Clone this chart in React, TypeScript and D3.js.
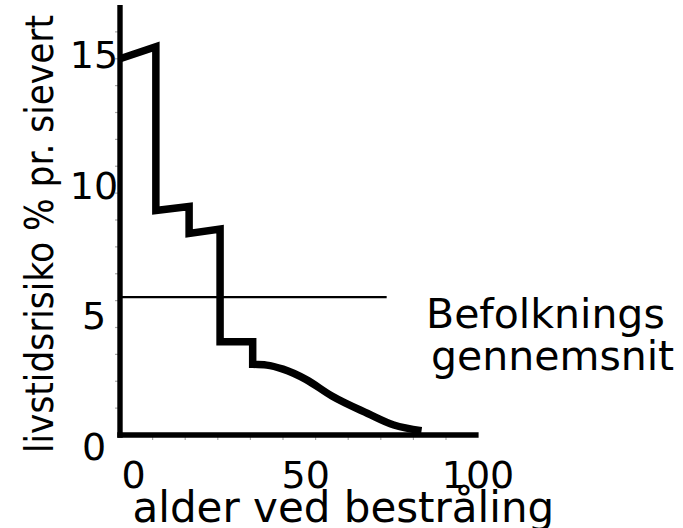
import React from 'react';
import * as d3 from 'd3';

// risk (% per sievert) vs age at exposure — stepped part
const stepAges = [0, 11, 11, 21.2, 21.2, 30.7, 30.7, 40.7, 40.7];
const stepRisk = [14.0, 14.45, 8.35, 8.5, 7.5, 7.66, 3.47, 3.47, 2.63];
// smooth tail
const tailAges = [40.7, 45, 50, 57, 65, 76, 84, 92.5];
const tailRisk = [2.63, 2.6, 2.45, 2.07, 1.45, 0.8, 0.37, 0.16];

const averageRisk = 5.13;
const averageEndAge = 81.8;

const xTickValues = [10, 20, 30, 40, 50, 60, 70, 80, 90, 100];
const yTickValues = [1, 2, 3, 4, 5, 6, 7, 8, 9, 10, 11, 12, 13, 14, 15];
const xLabels = [0, 50, 100];
const yLabels = [0, 5, 10, 15];

const yTitle = 'livstidsrisiko % pr. sievert';
const xTitle = 'alder ved bestråling';
const avgLabel = ['Befolknings', 'gennemsnit'];

const FONT = '"DejaVu Sans", Verdana, sans-serif';

export default function App() {
  const W = 683, H = 528;
  const x = d3.scaleLinear().domain([0, 110]).range([120, 478.6]);
  const y = d3.scaleLinear().domain([0, 16]).range([435, 5]);
  const xLab = d3.scaleLinear().domain([0, 100]).range([133.5, 478]);
  const yLab = d3.scaleLinear().domain([0, 15]).range([460, 68]);

  const stepLine = d3.line<[number, number]>().x(d => x(d[0])).y(d => y(d[1]));
  const tailLine = d3
    .line<[number, number]>()
    .x(d => x(d[0]))
    .y(d => y(d[1]))
    .curve(d3.curveMonotoneX);
  const stepD = stepLine(stepAges.map((a, i) => [a, stepRisk[i]] as [number, number])) || '';
  const tailD = tailLine(tailAges.map((a, i) => [a, tailRisk[i]] as [number, number])) || '';
  const pathD = stepD + tailD.replace(/^M/, 'L');

  return (
    <svg
      width={W}
      height={H}
      style={{ position: 'absolute', left: 0, top: 0, background: '#fff' }}
      fontFamily={FONT}
    >
      {/* ticks */}
      {yTickValues.map(v => (
        <line key={'yt' + v} x1={115} x2={118} y1={y(v)} y2={y(v)} stroke="#aaa" strokeWidth={1.2} />
      ))}
      {xTickValues.map(v => (
        <line key={'xt' + v} x1={x(v)} x2={x(v)} y1={437} y2={440} stroke="#aaa" strokeWidth={1.2} />
      ))}
      {/* axes */}
      <line x1={x(0)} x2={x(0)} y1={y(16)} y2={y(0) + 2.7} stroke="#000" strokeWidth={5.4} />
      <line x1={x(0) - 2.7} x2={x(110)} y1={y(0)} y2={y(0)} stroke="#000" strokeWidth={5.4} />

      {/* population average */}
      <line x1={x(0)} x2={x(averageEndAge)} y1={y(averageRisk)} y2={y(averageRisk)} stroke="#000" strokeWidth={2.4} />

      {/* risk curve */}
      <path d={pathD} fill="none" stroke="#000" strokeWidth={7.5} strokeLinejoin="miter" strokeLinecap="butt" />

      {/* tick labels */}
      {yLabels.map(v => (
        <text key={'yl' + v} x={94} y={yLab(v)} fontSize={38} textAnchor="middle" fill="#000">
          {v}
        </text>
      ))}
      {xLabels.map(v => (
        <text key={'xl' + v} x={xLab(v)} y={488} fontSize={38} textAnchor="middle" fill="#000">
          {v}
        </text>
      ))}

      {/* titles */}
      <text x={132.5} y={521.7} fontSize={42} fill="#000">
        {xTitle}
      </text>
      <text
        transform="translate(53,234) rotate(-90)"
        fontSize={39}
        textAnchor="middle"
        textLength={438}
        lengthAdjust="spacingAndGlyphs"
        fill="#000"
      >
        {yTitle}
      </text>
      <text x={426} y={328.3} fontSize={41} fill="#000">
        {avgLabel[0]}
      </text>
      <text x={431} y={370} fontSize={41} fill="#000">
        {avgLabel[1]}
      </text>
    </svg>
  );
}
